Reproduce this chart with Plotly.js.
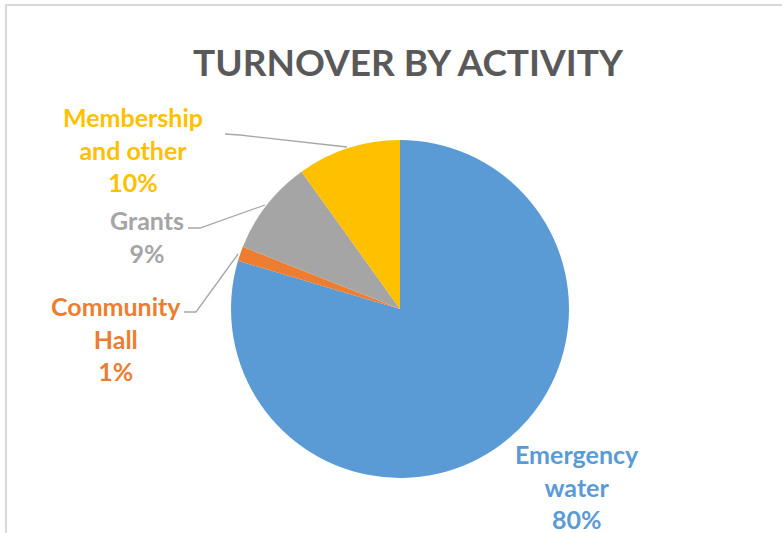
<!DOCTYPE html>
<html>
<head>
<meta charset="utf-8">
<script src="https://cdn.plot.ly/plotly-3.0.1.min.js"></script>
<style>
html,body{margin:0;padding:0;background:#fff;}
#chart{width:782px;height:533px;}
</style>
</head>
<body>
<div id="chart"></div>
<script>
// Data
const categories = ["Emergency water", "Community Hall", "Grants", "Membership and other"];
const labelLines = ["Emergency<br>water", "Community<br>Hall", "Grants", "Membership<br>and other"];
const values = [79.6, 1.4, 9.1, 9.9];
const colors = ["#5B9BD5", "#ED7D31", "#A5A5A5", "#FFC000"];
const titleText = "TURNOVER BY ACTIVITY";

const W = 782, H = 533;
const px = x => x / W;
const py = y => 1 - y / H;

const cx = 400, cy = 309, r = 169;

const total = values.reduce((a, b) => a + b, 0);
const pct = values.map(v => Math.round(v / total * 100) + "%");

// label placement (pixel centers) for each category
const labelPos = [
  {x: 577, y: 486},
  {x: 116, y: 338},
  {x: 147, y: 236},
  {x: 133, y: 149}
];

const annotations = categories.map((c, i) => ({
  text: "<b>" + labelLines[i] + "<br>" + pct[i] + "</b>",
  x: px(labelPos[i].x), y: py(labelPos[i].y),
  xref: "paper", yref: "paper",
  xanchor: "center", yanchor: "middle",
  showarrow: false,
  align: "center",
  font: {family: "Lato, 'Open Sans', sans-serif", size: 25, color: colors[i]}
}));

const lineColor = "#A6A6A6";
function path(pts) {
  return "M" + pts.map(p => px(p[0]) + "," + py(p[1])).join(" L");
}
const shapes = [
  {type: "path", xref: "paper", yref: "paper", path: path([[225,134],[240,135],[347,147]]), line: {color: lineColor, width: 1.3}},
  {type: "path", xref: "paper", yref: "paper", path: path([[188,228],[200,228],[265,205]]), line: {color: lineColor, width: 1.3}},
  {type: "path", xref: "paper", yref: "paper", path: path([[184,312],[196,312],[238,254]]), line: {color: lineColor, width: 1.3}},
  // chart frame
  {type: "line", xref: "paper", yref: "paper", x0: px(5), x1: 1, y0: py(5), y1: py(5), line: {color: "#D9D9D9", width: 2}},
  {type: "line", xref: "paper", yref: "paper", x0: px(6), x1: px(6), y0: py(5), y1: 0, line: {color: "#D9D9D9", width: 2}}
];

const trace = {
  type: "pie",
  labels: categories,
  values: values,
  sort: false,
  direction: "clockwise",
  rotation: 0,
  marker: {colors: colors, line: {width: 0}},
  textinfo: "none",
  hoverinfo: "label+percent",
  showlegend: false,
  domain: {x: [px(cx - r), px(cx + r)], y: [py(cy + r), py(cy - r)]}
};

const layout = {
  width: W, height: H,
  margin: {l: 0, r: 0, t: 0, b: 0},
  paper_bgcolor: "#fff",
  title: {
    text: "<b>" + titleText + "</b>",
    x: px(408), y: py(63), xanchor: "center", yanchor: "middle",
    font: {family: "Lato, 'Open Sans', sans-serif", size: 37, color: "#595959"}
  },
  annotations: annotations,
  shapes: shapes,
  showlegend: false
};

Plotly.newPlot("chart", [trace], layout, {displayModeBar: false, staticPlot: true});
</script>
</body>
</html>
